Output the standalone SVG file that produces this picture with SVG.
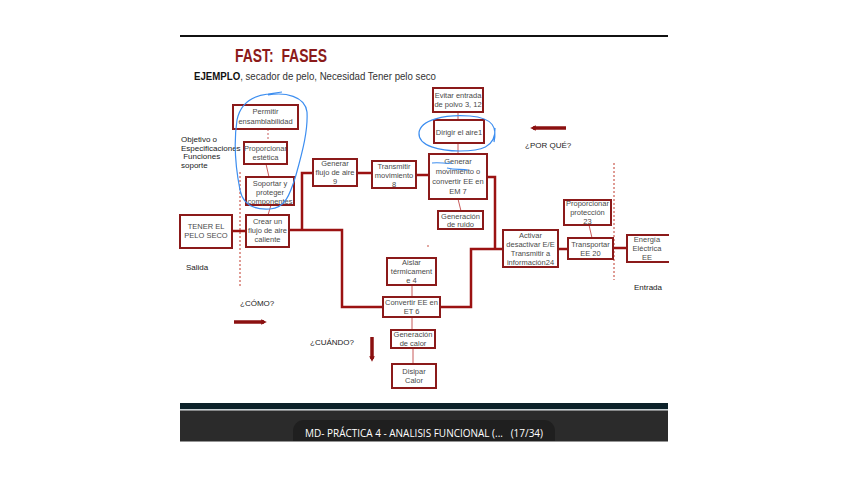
<svg xmlns="http://www.w3.org/2000/svg" width="848" height="477" viewBox="0 0 848 477">
<defs>
<style>
.box{fill:#fff;stroke:#8b1a1a;stroke-width:2}
.t{font-family:"Liberation Sans",Arial,sans-serif;font-size:7.5px;fill:#4a4a4a;text-anchor:middle}
.lbl{font-family:"Liberation Sans",Arial,sans-serif;font-size:8px;fill:#222}
.thick{fill:none;stroke:#9b1212;stroke-width:2.5}
.thin{fill:none;stroke:#c85a5a;stroke-width:1}
.dash{fill:none;stroke:#c0392b;stroke-width:1;stroke-dasharray:2 2}
.blue{fill:none;stroke:#3d8ef0;stroke-width:1.2}
.bar{stroke:#8b1010;stroke-width:3.5}
</style>
<marker id="ah" viewBox="0 0 6 6" refX="3" refY="3" markerWidth="1.6" markerHeight="1.6" orient="auto"><path d="M0,0 L6,3 L0,6 Z" fill="#8b1010"/></marker>
</defs>
<rect x="0" y="0" width="848" height="477" fill="#fff"/>
<line x1="180" y1="36" x2="668" y2="36" stroke="#111" stroke-width="2"/>
<text x="235" y="62" font-family="'Liberation Sans',Arial,sans-serif" font-weight="bold" font-size="18" fill="#8b1a1a" textLength="92" lengthAdjust="spacingAndGlyphs" xml:space="preserve">FAST:  FASES</text>
<text x="194" y="80" font-family="'Liberation Sans',Arial,sans-serif" font-size="10" fill="#333" textLength="242" lengthAdjust="spacingAndGlyphs"><tspan font-weight="bold" fill="#111">EJEMPLO</tspan>, secador de pelo, Necesidad Tener pelo seco</text>

<g id="labels">
<text class="lbl" x="181" y="142">Objetivo o</text>
<text class="lbl" x="181" y="150.5">Especificaciones</text>
<text class="lbl" x="181" y="159" xml:space="preserve"> Funciones</text>
<text class="lbl" x="181" y="167.5">soporte</text>
<text class="lbl" x="186" y="270">Salida</text>
<text class="lbl" x="240" y="306">¿CÓMO?</text>
<text class="lbl" x="310" y="345">¿CUÁNDO?</text>
<text class="lbl" x="525" y="148">¿POR QUÉ?</text>
<text class="lbl" x="634" y="290">Entrada</text>
</g>

<g id="connectors">
<line class="dash" x1="240" y1="172" x2="240" y2="287"/>
<line class="dash" x1="614" y1="163" x2="614" y2="280"/>
<line class="thin" x1="268" y1="129" x2="268" y2="142" stroke-dasharray="2 2"/>
<line class="thin" x1="266" y1="164" x2="269" y2="177"/>
<line class="thin" x1="271" y1="205" x2="268" y2="215"/>
<line class="thin" x1="458" y1="112" x2="458" y2="120"/>
<line class="thin" x1="458" y1="143" x2="458" y2="154"/>
<line class="thin" x1="458" y1="199" x2="461" y2="211"/>
<line class="thin" x1="589" y1="225" x2="592" y2="238"/>
<line class="thin" x1="412" y1="285" x2="412" y2="297"/>
<line class="thin" x1="412" y1="317" x2="412" y2="330"/>
<line class="thin" x1="413" y1="348" x2="413" y2="364"/>
<line class="thick" x1="232" y1="231" x2="246" y2="231"/>
<polyline class="thick" points="289,230 342,230 342,307 383,307"/>
<polyline class="thick" points="302,230 302,173 313,173"/>
<line class="thick" x1="357" y1="173" x2="372" y2="173"/>
<line class="thick" x1="416" y1="175" x2="429" y2="175"/>
<polyline class="thick" points="487,177 495,177 495,249"/>
<polyline class="thick" points="440,307 471,307 471,249 503,249"/>
<line class="thick" x1="558" y1="249" x2="568" y2="249"/>
<line class="thick" x1="613" y1="248" x2="627" y2="248"/>
<line class="bar" x1="234" y1="322" x2="264" y2="322" marker-end="url(#ah)"/>
<line class="bar" x1="566" y1="128" x2="533" y2="128" marker-end="url(#ah)"/>
<line class="bar" x1="372" y1="337" x2="372" y2="359" marker-end="url(#ah)"/>
<circle cx="428" cy="246" r="0.8" fill="#c0392b"/>
</g>

<g id="n-permitir"><rect class="box" x="233" y="105" width="65" height="24"/><text class="t" x="265.5" y="114">Permitir</text><text class="t" x="265.5" y="123.5">ensamblabilidad</text></g>
<g id="n-proporcionar-estetica"><rect class="box" x="244" y="142" width="43" height="22"/><text class="t" x="265.5" y="151">Proporcionar</text><text class="t" x="265.5" y="160">estética</text></g>
<g id="n-soportar"><rect class="box" x="246" y="177" width="48" height="28"/><text class="t" x="270" y="185.5">Soportar y</text><text class="t" x="270" y="194.5">proteger</text><text class="t" x="270" y="203.5">componentes</text></g>
<g id="n-crear"><rect class="box" x="246" y="215" width="43" height="32"/><text class="t" x="267.5" y="224">Crear un</text><text class="t" x="267.5" y="233">flujo de aire</text><text class="t" x="267.5" y="242">caliente</text></g>
<g id="n-tener"><rect class="box" x="180" y="215" width="52" height="33"/><text class="t" x="206" y="229">TENER EL</text><text class="t" x="206" y="238">PELO SECO</text></g>
<g id="n-generar-flujo"><rect class="box" x="313" y="159" width="44" height="27"/><text class="t" x="335" y="166">Generar</text><text class="t" x="335" y="175">flujo de aire</text><text class="t" x="335" y="184">9</text></g>
<g id="n-transmitir"><rect class="box" x="372" y="161" width="44" height="27"/><text class="t" x="394" y="168.5">Transmitir</text><text class="t" x="394" y="177.5">movimiento</text><text class="t" x="394" y="186.5">8</text></g>
<g id="n-evitar"><rect class="box" x="433" y="88" width="50" height="24"/><text class="t" x="458" y="97.5">Evitar entrada</text><text class="t" x="458" y="107">de polvo 3, 12</text></g>
<g id="n-dirigir"><rect class="box" x="434" y="120" width="50" height="23"/><text class="t" x="459" y="134.5">Dirigir el aire1</text></g>
<g id="n-generar-mov"><rect class="box" x="429" y="154" width="58" height="45"/><text class="t" x="458" y="164">Generar</text><text class="t" x="458" y="174">movimiento o</text><text class="t" x="458" y="184">convertir EE en</text><text class="t" x="458" y="194">EM 7</text></g>
<g id="n-ruido"><rect class="box" x="438" y="211" width="45" height="18"/><text class="t" x="460.5" y="218.5">Generación</text><text class="t" x="460.5" y="227">de ruido</text></g>
<g id="n-activar"><rect class="box" x="503" y="230" width="55" height="37"/><text class="t" x="530.5" y="238">Activar</text><text class="t" x="530.5" y="247">desactivar E/E</text><text class="t" x="530.5" y="256">Transmitir a</text><text class="t" x="530.5" y="265">información24</text></g>
<g id="n-proteccion"><rect class="box" x="564" y="200" width="47" height="25"/><text class="t" x="587.5" y="205.5">Proporcionar</text><text class="t" x="587.5" y="214.5">protección</text><text class="t" x="587.5" y="223.5">23</text></g>
<g id="n-transportar"><rect class="box" x="568" y="238" width="45" height="21"/><text class="t" x="590.5" y="247">Transportar</text><text class="t" x="590.5" y="256">EE 20</text></g>
<g id="n-energia"><rect class="box" x="627" y="235" width="43" height="27"/><text class="t" x="647" y="242">Energía</text><text class="t" x="647" y="251">Eléctrica</text><text class="t" x="647" y="260">EE</text></g>
<g id="n-aislar"><rect class="box" x="387" y="258" width="49" height="27"/><text class="t" x="411.5" y="264.5">Aislar</text><text class="t" x="411.5" y="274">térmicament</text><text class="t" x="411.5" y="283">e 4</text></g>
<g id="n-convertir"><rect class="box" x="383" y="297" width="57" height="20"/><text class="t" x="411.5" y="304.5">Convertir EE en</text><text class="t" x="411.5" y="314">ET 6</text></g>
<g id="n-calor"><rect class="box" x="391" y="330" width="44" height="18"/><text class="t" x="413" y="337">Generación</text><text class="t" x="413" y="346">de calor</text></g>
<g id="n-disipar"><rect class="box" x="392" y="364" width="44" height="24"/><text class="t" x="414" y="374">Disipar</text><text class="t" x="414" y="383">Calor</text></g>
<rect x="669" y="220" width="20" height="60" fill="#fff"/>

<g id="annotations">
<path class="blue" d="M268,95 C285,92 305,96 307,112 C308,130 303,150 296,175 C290,195 285,208 270,209 C255,210 243,205 240,190 C235,165 234,140 237,120 C240,105 250,96 268,94 L282,92"/>
<path class="blue" d="M494,142 C497,128 494,118 470,116 C445,114 420,120 419,133 C418,146 440,151 460,151 C480,151 496,148 495,128"/>
<path class="blue" d="M432,163 C440,162 446,164 452,163 M447,168 C455,170 460,169 468,170"/>
</g>

<g id="taskbar">
<rect x="180" y="403" width="488" height="6" fill="#0c2129"/>
<rect x="180" y="409" width="488" height="1.5" fill="#c8d0d4"/>
<rect x="180" y="410.5" width="488" height="31" fill="#2b2b2b"/>
<path d="M304,420 H544 A11,11 0 0 1 555,431 V441 H293 V431 A11,11 0 0 1 304,420 Z" fill="#1f1f1f"/>
<text x="305" y="437" font-family="'Open Sans','Liberation Sans',sans-serif" font-size="10.5" fill="#fff" textLength="238" lengthAdjust="spacingAndGlyphs" xml:space="preserve">MD- PRÁCTICA 4 - ANALISIS FUNCIONAL (...   (17/34)</text>
</g>
</svg>
